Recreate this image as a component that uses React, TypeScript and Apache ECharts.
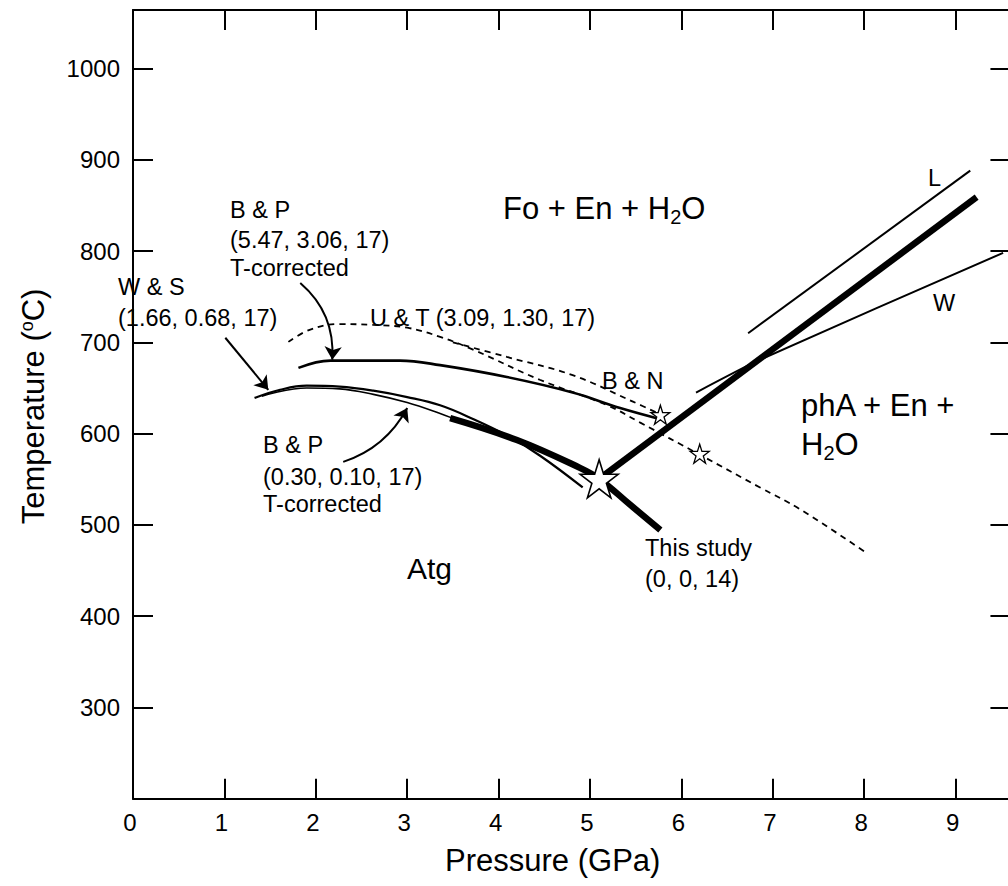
import React, { useEffect, useRef } from 'react';
import * as echarts from 'echarts';

// ---------- data (Pressure GPa, Temperature °C) ----------
const xTickValues = [0, 1, 2, 3, 4, 5, 6, 7, 8, 9];
const yTickValues = [300, 400, 500, 600, 700, 800, 900, 1000];

const thisStudyAtgFo = [[3.47, 617], [4.2, 593], [4.89, 562.5], [5.1, 550.5], [5.44, 522], [5.77, 494.5]];
const thisStudyAtgPhA = [[5.1, 550.5], [9.23, 859]];
const lineL = [[6.73, 710], [9.16, 888]];
const lineW = [[6.16, 645], [6.86, 681], [9.52, 798]];
const bp547 = [[1.81, 672], [2.16, 680], [2.92, 680], [3.36, 675], [4.09, 662], [4.81, 645], [5.33, 628], [5.8, 615]];
const ut309 = [[1.7, 700.5], [1.94, 714], [2.26, 720], [2.63, 719], [3.0, 716], [3.36, 706], [3.72, 692], [4.45, 659], [5.19, 631], [5.55, 612], [6.2, 577], [6.86, 541], [7.3, 517], [8.03, 469]];
const bnDashed = [[3.5, 700], [4.09, 684], [4.81, 664], [5.47, 635], [5.77, 621]];
const ws166 = [[1.33, 639], [1.61, 648], [1.9, 652.5], [2.26, 651.5], [2.63, 647], [3.0, 640], [3.36, 631], [3.72, 616], [4.09, 598], [4.45, 576], [4.92, 541]];
const bp030 = [[1.41, 641], [1.9, 650], [2.26, 649], [2.63, 643], [3.0, 634], [3.36, 622], [3.6, 613], [4.0, 599]];
const bigStar = [[5.1, 550.5]];
const bnStars = [[5.77, 620.6], [6.2, 578]];
const arrowWS = [[1.01, 705], [1.48, 648]];
const arrowBP547 = [[1.83, 765], [2.18, 681]];
const arrowBP030 = [[2.3, 569], [3.0, 628]];

const FONT = '"Liberation Sans", Arial, Helvetica, sans-serif';
const STAR = 'path://M50,0 L61.2,34.5 L97.6,34.5 L68.2,55.9 L79.4,90.5 L50,69.1 L20.6,90.5 L31.8,55.9 L2.4,34.5 L38.8,34.5 Z';

const annotations: { text: string; x: number; y: number; size: number }[] = [
  { text: 'W & S', x: 118, y: 287, size: 23.5 },
  { text: '(1.66, 0.68, 17)', x: 118, y: 318, size: 23.5 },
  { text: 'B & P', x: 230, y: 210, size: 23.5 },
  { text: '(5.47, 3.06, 17)', x: 230, y: 240, size: 23.5 },
  { text: 'T-corrected', x: 230, y: 268, size: 23.5 },
  { text: 'U & T (3.09, 1.30, 17)', x: 370, y: 318, size: 23.5 },
  { text: 'B & N', x: 602, y: 381, size: 23.5 },
  { text: 'L', x: 928, y: 178, size: 23.5 },
  { text: 'W', x: 933, y: 303, size: 23.5 },
  { text: 'B & P', x: 263, y: 445, size: 23.5 },
  { text: '(0.30, 0.10, 17)', x: 263, y: 477, size: 23.5 },
  { text: 'T-corrected', x: 263, y: 504, size: 23.5 },
  { text: 'This study', x: 645, y: 548, size: 23.5 },
  { text: '(0, 0, 14)', x: 645, y: 579, size: 23.5 },
  { text: 'Atg', x: 407, y: 568, size: 30 },
  { text: 'Fo + En + H{sub|2}O', x: 503, y: 208, size: 31 },
  { text: 'phA + En +', x: 801, y: 405, size: 31 },
  { text: 'H{sub|2}O', x: 801, y: 444, size: 31 },
];

const lineSeries = (data: number[][], width: number, dashed = false, smooth: number | boolean = 0.4, z = 2) => ({
  type: 'line',
  data,
  showSymbol: false,
  smooth,
  z,
  lineStyle: { color: '#000', width, type: dashed ? [6, 5] : 'solid', cap: 'butt' },
  silent: true,
});

const arrowSeries = (coords: number[][], curveness: number) => ({
  type: 'lines',
  coordinateSystem: 'cartesian2d',
  symbol: ['none', 'arrow'],
  symbolSize: [10, 13],
  z: 3,
  lineStyle: { color: '#000', width: 2, curveness, opacity: 1 },
  data: [{ coords }],
  silent: true,
});

const isTick = (v: number, list: number[]) => list.some((t) => Math.abs(t - v) < 1e-6);

export default function App() {
  const ref = useRef<HTMLDivElement>(null);
  useEffect(() => {
    document.body.style.margin = '0';
    const chart = echarts.init(ref.current!, null, { renderer: 'svg' });
    const axisCommon = {
      axisLine: { show: true, onZero: false, lineStyle: { color: '#000', width: 2 } },
      axisTick: { show: true, inside: true, length: 20, lineStyle: { color: '#000', width: 2 } },
      splitLine: { show: false },
    };
    const option: any = {
      animation: false,
      backgroundColor: '#fff',
      grid: { left: 133, top: 10, width: 877.44, height: 788.8 },
      xAxis: [
        {
          type: 'value', min: 0, max: 9.6, interval: 1, position: 'bottom',
          ...axisCommon,
          axisLabel: {
            color: '#000', fontSize: 24, fontFamily: FONT, margin: 12, padding: [0, 6, 0, 0],
            formatter: (v: number) => (isTick(v, xTickValues) ? String(Math.round(v)) : ''),
          },
          name: 'Pressure (GPa)', nameLocation: 'middle', nameGap: 46,
          nameTextStyle: { color: '#000', fontSize: 31, fontFamily: FONT, padding: [0, 38, 0, 0] },
        },
        {
          type: 'value', min: 0, max: 9.6, interval: 1, position: 'top',
          ...axisCommon, axisLabel: { show: false },
        },
      ],
      yAxis: [
        {
          type: 'value', min: 200, max: 1064, interval: 100, position: 'left',
          ...axisCommon,
          axisLabel: {
            color: '#000', fontSize: 24, fontFamily: FONT, margin: 13,
            formatter: (v: number) => (isTick(v, yTickValues) ? String(Math.round(v)) : ''),
          },
          name: 'Temperature ({sup|o}C)', nameLocation: 'middle', nameGap: 84,
          nameTextStyle: {
            color: '#000', fontSize: 31, fontFamily: FONT, padding: [0, 4, 0, 0],
            rich: { sup: { fontSize: 18, fontFamily: FONT, color: '#000', verticalAlign: 'top', lineHeight: 16 } },
          },
        },
        {
          type: 'value', min: 200, max: 1064, interval: 100, position: 'right',
          ...axisCommon, axisLabel: { show: false },
        },
      ],
      series: [
        lineSeries(ut309, 1.8, true),
        lineSeries(bnDashed, 1.8, true),
        lineSeries(bp547, 2.6),
        lineSeries(ws166, 2.2),
        lineSeries(bp030, 1.6),
        lineSeries(lineL, 2, false, false),
        lineSeries(lineW, 2, false, 0.2),
        lineSeries(thisStudyAtgFo, 6.5, false, 0.4, 4),
        lineSeries(thisStudyAtgPhA, 6.5, false, false, 4),
        arrowSeries(arrowWS, 0),
        arrowSeries(arrowBP547, 0.25),
        arrowSeries(arrowBP030, -0.2),
        {
          type: 'scatter', data: bnStars, symbol: STAR, symbolSize: 19, z: 6, silent: true,
          itemStyle: { color: '#fff', borderColor: '#000', borderWidth: 1.3, opacity: 1 },
        },
        {
          type: 'scatter', data: bigStar, symbol: STAR, symbolSize: 38, z: 7, silent: true,
          itemStyle: { color: '#fff', borderColor: '#000', borderWidth: 1.6, opacity: 1 },
        },
      ],
      graphic: annotations.map((a) => ({
        type: 'text',
        x: a.x,
        y: a.y,
        z: 10,
        silent: true,
        style: {
          text: a.text,
          fontSize: a.size,
          fontFamily: FONT,
          fill: '#000',
          lineHeight: Math.round(a.size * 1.2),
          verticalAlign: 'middle',
          align: 'left',
          rich: {
            sub: { fontSize: Math.round(a.size * 0.66), fontFamily: FONT, fill: '#000', verticalAlign: 'bottom', lineHeight: 14 },
          },
        },
      })),
    };
    chart.setOption(option);
    return () => chart.dispose();
  }, []);
  return (
    <div style={{ position: 'fixed', left: 0, top: 0, width: 1008, height: 886, overflow: 'hidden', background: '#fff' }}>
      <div ref={ref} style={{ width: 1040, height: 886 }} />
    </div>
  );
}
